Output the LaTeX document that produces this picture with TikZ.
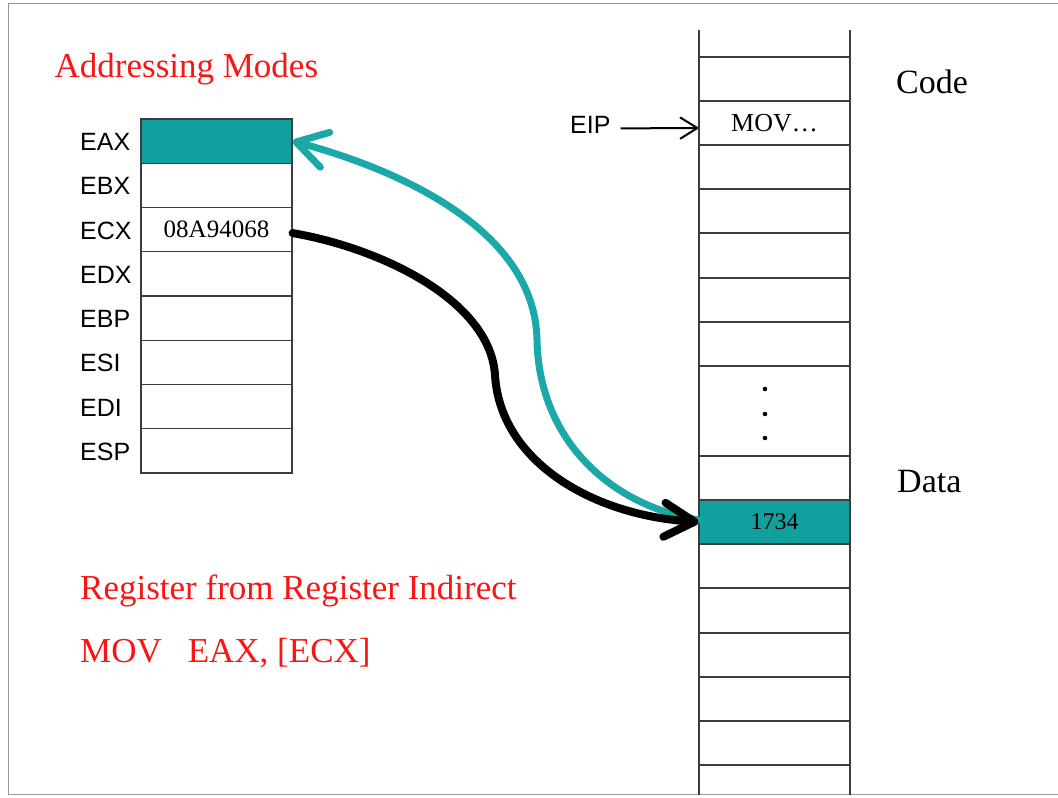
\documentclass[tikz,border=0pt]{standalone}
\usepackage{fontspec}
\setmainfont{Liberation Serif}
\newfontfamily\labfont{Liberation Sans}
\usetikzlibrary{arrows.meta}
\definecolor{tealfill}{RGB}{16,160,158}
\definecolor{tealline}{RGB}{26,168,168}
\definecolor{gridline}{RGB}{60,60,60}
\definecolor{textred}{RGB}{250,20,20}
\definecolor{framegray}{RGB}{150,150,150}
\begin{document}
\begin{tikzpicture}[x=1pt,y=-1pt,
  regcell/.style={draw=gridline,line width=1.2pt,minimum width=151pt,minimum height=44.25pt,inner sep=0pt,
    font=\fontsize{25}{28}\selectfont},
  memcell/.style={draw=gridline,line width=1.2pt,minimum width=151pt,minimum height=44pt,inner sep=0pt},
  reglabel/.style={anchor=base west,inner sep=0pt,font=\labfont\fontsize{25}{28}\selectfont},
  redtitle/.style={anchor=base west,inner sep=0pt,text=textred,font=\fontsize{35}{40}\selectfont},
  sidelabel/.style={anchor=base west,inner sep=0pt,font=\fontsize{34}{40}\selectfont},
  gridrule/.style={draw=gridline,line width=1.2pt},
  eiparrow/.style={line width=2pt,-{Straight Barb[length=17pt,width=21pt,round]}},
  tealarrow/.style={draw=tealline,line width=7pt,line cap=round,-{Straight Barb[length=30pt,width=36pt,round]}},
  blackarrow/.style={draw=black,line width=8pt,line cap=round,-{Straight Barb[length=30pt,width=34pt,round]}}
]
\useasboundingbox (0,0) rectangle (1058,798);
\fill[white] (0,0) rectangle (1058,798);
% frame
\draw[framegray,line width=1pt] (1058,3) -- (8.5,3) -- (8.5,794.5) -- (1058,794.5);

% titles
\node[redtitle] (title) at (54.5,77) {Addressing Modes};
\node[redtitle] (mode) at (80,599) {Register from Register Indirect};
\node[redtitle] (instr) at (80,662) {MOV\hspace{26pt}EAX, [ECX]};

% register file
\node[regcell,fill=tealfill] (eax) at (216.5,141.1) {};
\node[regcell] (ebx) at (216.5,185.4) {};
\node[regcell] (ecx) at (216.5,229.6) {08A94068};
\node[regcell] (edx) at (216.5,273.9) {};
\node[regcell] (ebp) at (216.5,318.1) {};
\node[regcell] (esi) at (216.5,362.4) {};
\node[regcell] (edi) at (216.5,406.6) {};
\node[regcell] (esp) at (216.5,450.9) {};
\node[reglabel] (leax) at (80,150.6) {EAX};
\node[reglabel] (lebx) at (80,194.9) {EBX};
\node[reglabel] (lecx) at (80,239.1) {ECX};
\node[reglabel] (ledx) at (80,283.4) {EDX};
\node[reglabel] (lebp) at (80,327.6) {EBP};
\node[reglabel] (lesi) at (80,371.9) {ESI};
\node[reglabel] (ledi) at (80,416.1) {EDI};
\node[reglabel] (lesp) at (80,460.4) {ESP};

% memory column
\draw[gridrule] (699,30) -- (699,794.5);
\draw[gridrule] (850,30) -- (850,794.5);
\foreach \yy in {57,101,145,189,233,278,322,366,456,500,544,588,633,677,721,765}
  \draw[gridrule] (699,\yy) -- (850,\yy);
\node[memcell,font=\fontsize{26}{30}\selectfont] (mov) at (774.5,123) {MOV…};
\node[memcell,fill=tealfill,font=\fontsize{24}{28}\selectfont] (data) at (774.5,522) {1734};
\fill (765,389) circle (2.3pt);
\fill (765,414) circle (2.3pt);
\fill (765,438) circle (2.3pt);

\node[sidelabel] (code) at (896,93) {Code};
\node[sidelabel] (datalbl) at (897,492) {Data};

% EIP pointer
\node[reglabel] (eip) at (570,133) {EIP};
\draw[eiparrow] ([xshift=10pt,yshift=-4pt]eip.east) -- ([yshift=-5pt]mov.west);

% arrows
\draw[tealarrow] ([yshift=2pt]data.west) .. controls (610,505) and (539,440) .. (537,340)
   .. controls (535,230) and (400,170) .. (eax.east);
\draw[blackarrow] ([yshift=-3.5pt]ecx.east) .. controls (380,248) and (490,300) .. (495,375)
   .. controls (500,460) and (590,515) .. (data.west);
\end{tikzpicture}
\end{document}
